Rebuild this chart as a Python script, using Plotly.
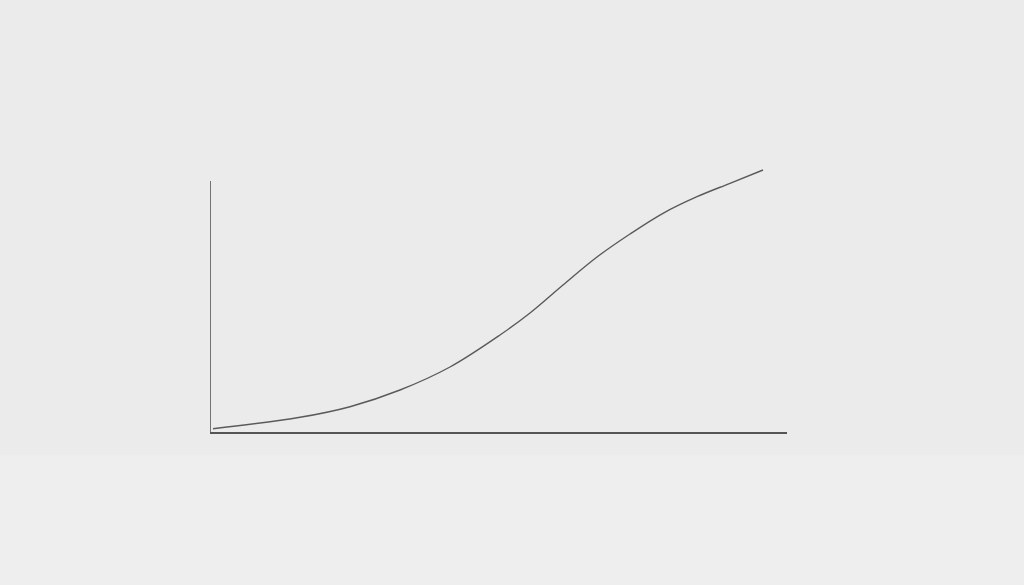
import plotly.graph_objects as go

# Curve values (x in 0..577, y in 0..267 units)
x_vals = [3, 90, 140, 190, 240, 290, 320, 353, 387, 420, 453, 487, 520, 553]
y_vals = [3.3, 14.7, 25.3, 42, 65, 97, 119, 147, 175, 198, 218.7, 235.3, 248.7, 262]

x_range = [0, 577]
y_range = [0, 267]
y_axis_top = 251

fig = go.Figure()
fig.add_trace(go.Scatter(
    x=x_vals, y=y_vals, mode="lines",
    line=dict(color="#5a5a5a", width=1.4, shape="spline", smoothing=1.0),
    hoverinfo="skip", showlegend=False,
))

# subtle lighter floor band
fig.add_shape(type="rect", xref="paper", yref="paper", x0=-1, x1=2, y0=-1, y1=-0.087,
              fillcolor="#eeeeee", line=dict(width=0), layer="below")
# vertical axis line (shorter than plot area)
fig.add_shape(type="line", xref="x", yref="y", x0=0, x1=0, y0=0, y1=y_axis_top,
              line=dict(color="#555555", width=1.6))

fig.update_layout(
    width=1024, height=585,
    margin=dict(l=210, r=237, t=165, b=153),
    paper_bgcolor="#ebebeb", plot_bgcolor="rgba(0,0,0,0)",
    xaxis=dict(range=x_range, showgrid=False, zeroline=False, showticklabels=False,
               ticks="", showline=True, linecolor="#555555", linewidth=1.6),
    yaxis=dict(range=y_range, showgrid=False, zeroline=False, showticklabels=False,
               ticks="", showline=False),
)
fig.write_html(
    "out.html",
    config={"displayModeBar": False},
    post_script="document.body.style.margin='0';document.body.style.overflow='hidden';"
                "document.body.style.backgroundColor='#ebebeb';",
)
